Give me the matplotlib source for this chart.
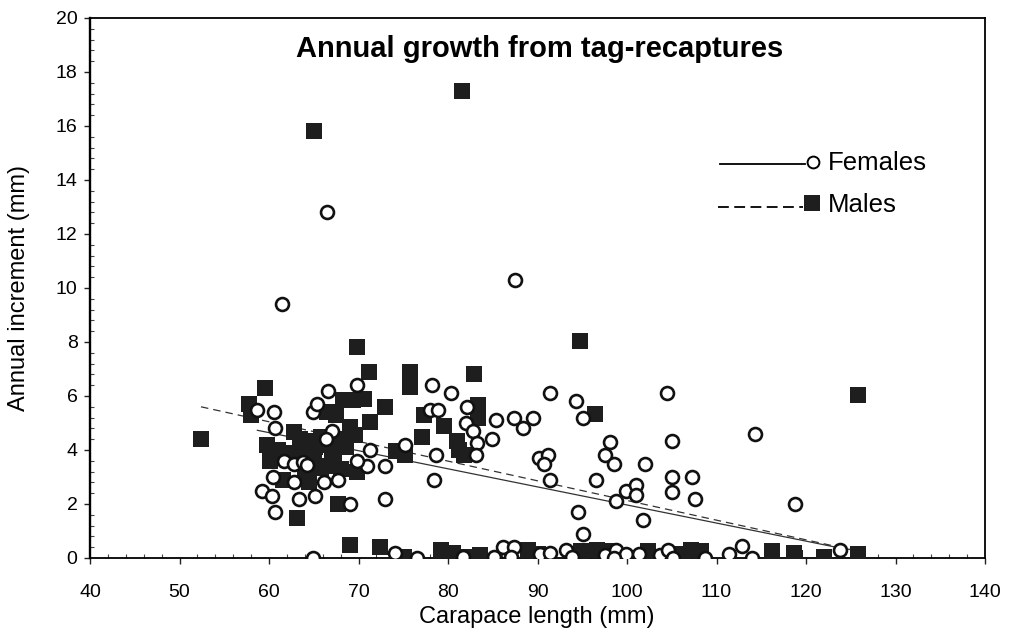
import matplotlib
matplotlib.use('Agg')
import matplotlib.pyplot as plt
from matplotlib.ticker import MultipleLocator

plt.rcParams['font.family'] = ['Liberation Sans', 'DejaVu Sans']

# ---- data (carapace length mm, annual increment mm) ----
female_x = [66.5, 61.5, 87.5, 58.7, 60.6, 60.7, 61.7, 60.4, 59.2, 60.3,
            60.7, 62.8, 62.8, 63.8, 64.3, 63.3, 65.1, 64.9, 65.4, 66.6,
            66.2, 67.7, 69.1, 69.8, 71.3, 70.9, 69.8, 73.0, 73.0, 67.0,
            66.4, 75.2, 78.2, 80.3, 78.0, 78.9, 82.1, 82.0, 82.8, 83.2,
            83.1, 84.9, 85.4, 87.4, 89.5, 88.4, 78.7, 78.4, 91.4, 94.3,
            95.1, 104.5, 98.1, 97.5, 98.5, 102.0, 90.2, 91.2, 90.7, 91.4,
            96.5, 99.9, 101.0, 101.0, 98.8, 94.5, 101.8, 95.1, 105.0, 105.0,
            105.0, 107.3, 107.6, 114.3, 118.8,
            64.9, 74.1, 76.5, 81.7, 85.1, 86.2, 87.4, 87.0, 90.3, 91.4,
            93.2, 93.9, 97.5, 98.8, 99.9, 98.6, 101.3, 103.7, 104.6, 105.1,
            108.7, 111.4, 112.8, 114.0, 123.8]
female_y = [12.8, 9.4, 10.3, 5.5, 5.4, 4.8, 3.6, 3.0, 2.5, 2.3,
            1.7, 2.8, 3.5, 3.55, 3.45, 2.2, 2.3, 5.4, 5.7, 6.2,
            2.8, 2.9, 2.0, 6.4, 4.0, 3.4, 3.6, 3.4, 2.2, 4.7,
            4.4, 4.2, 6.4, 6.1, 5.5, 5.5, 5.6, 5.0, 4.7, 4.25,
            3.8, 4.4, 5.1, 5.2, 5.2, 4.8, 3.8, 2.9, 6.1, 5.8,
            5.2, 6.1, 4.3, 3.8, 3.5, 3.5, 3.7, 3.8, 3.5, 2.9,
            2.9, 2.5, 2.7, 2.35, 2.1, 1.7, 1.4, 0.9, 4.35, 3.0,
            2.45, 3.0, 2.2, 4.6, 2.0,
            0.0, 0.2, 0.0, 0.05, 0.05, 0.4, 0.4, 0.05, 0.15, 0.2,
            0.3, 0.05, 0.1, 0.3, 0.15, 0.0, 0.15, 0.1, 0.3, 0.0,
            0.0, 0.15, 0.45, 0.0, 0.3]

male_x = [65.0, 81.6, 94.7, 69.8, 125.8, 52.4, 59.5, 57.8, 58.0, 59.8,
          60.1, 61.6, 61.0, 62.3, 62.8, 63.5, 63.8, 64.2, 65.1, 65.0,
          64.0, 64.5, 65.8, 66.2, 63.1, 67.3, 66.8, 65.8, 67.0, 68.0,
          66.5, 67.5, 68.3, 69.4, 70.6, 71.2, 73.0, 71.3, 69.0, 69.6,
          67.8, 68.6, 74.2, 69.8, 67.7, 75.8, 75.8, 82.9, 77.3, 79.5,
          83.3, 83.3, 77.1, 81.0, 81.2, 81.8, 75.2, 96.4,
          69.0, 72.4, 75.1, 79.2, 80.6, 81.9, 83.6, 88.9, 90.0, 94.9,
          96.7, 97.9, 102.3, 102.3, 106.2, 107.1, 108.3, 116.2, 118.7, 118.8,
          122.0, 125.8]
male_y = [15.8, 17.3, 8.05, 7.8, 6.05, 4.4, 6.3, 5.7, 5.3, 4.2,
          3.6, 2.9, 4.0, 3.9, 4.65, 4.4, 3.9, 4.35, 4.1, 3.7,
          3.1, 2.8, 4.5, 4.2, 1.5, 3.6, 3.4, 3.35, 3.8, 3.3,
          5.4, 5.3, 5.85, 5.85, 5.9, 6.9, 5.6, 5.05, 4.85, 4.55,
          4.4, 4.1, 3.95, 3.2, 2.0, 6.9, 6.35, 6.8, 5.3, 4.9,
          5.65, 5.2, 4.5, 4.35, 4.0, 3.8, 3.8, 5.35,
          0.5, 0.42, 0.05, 0.3, 0.2, 0.05, 0.1, 0.3, 0.15, 0.25,
          0.3, 0.25, 0.25, 0.0, 0.15, 0.3, 0.25, 0.25, 0.2, 0.0,
          0.05, 0.15]

# fitted lines (end points)
female_fit_x = [58.7, 123.8]
female_fit_y = [4.73, 0.37]
male_fit_x = [52.4, 125.8]
male_fit_y = [5.6, 0.25]

x_ticks = list(range(40, 141, 10))
y_ticks = list(range(0, 21, 2))

# ---- figure ----
fig = plt.figure(figsize=(10.14, 6.36), dpi=100)
ax = fig.add_axes([90/1014, 1-558/636, 895/1014, 540/636])

ax.plot(male_fit_x, male_fit_y, color='#333333', lw=0.9, ls=(0, (6, 4)), zorder=2)
ax.plot(female_fit_x, female_fit_y, color='#333333', lw=0.9, ls='-', zorder=2)
ax.plot(male_x, male_y, ls='none', marker='s', ms=11.6, mfc='#1e1e1e',
        mec='#1e1e1e', mew=0, zorder=3)
ax.plot(female_x, female_y, ls='none', marker='o', ms=9.3, mfc='white',
        mec='#111111', mew=1.9, zorder=4)

ax.set_xlim(40, 140)
ax.set_ylim(0, 20)
ax.set_xticks(x_ticks)
ax.set_yticks(y_ticks)
ax.xaxis.set_minor_locator(MultipleLocator(2))
ax.yaxis.set_minor_locator(MultipleLocator(0.4))
ax.tick_params(which='major', direction='out', length=4, width=1,
               labelsize=14, color='#222222')
ax.tick_params(axis='x', which='major', pad=15)
ax.tick_params(axis='y', which='major', pad=5)
ax.tick_params(which='minor', direction='in', length=3, width=0.8,
               color='#444444')
for s in ['left', 'bottom', 'top', 'right']:
    ax.spines[s].set_linewidth(1.3)
ax.spines['left'].set_linewidth(1.7)

# axis labels
fig.text(19/1014, 1-288/636, 'Annual increment (mm)', rotation=90,
         ha='center', va='center', fontsize=17)
fig.text(537/1014, 1-617/636, 'Carapace length (mm)',
         ha='center', va='center', fontsize=17)

# title inside the plot
ax.text(0.502, 0.928, 'Annual growth from tag-recaptures', transform=ax.transAxes,
        ha='center', va='baseline', fontsize=21, fontweight='bold')

# legend drawn by hand (line then marker then text, like the original)
ax.plot([0.704, 0.799], [0.7296, 0.7296], transform=ax.transAxes,
        color='black', lw=1.3, clip_on=False)
ax.plot([0.8078], [0.7333], transform=ax.transAxes, marker='o', ms=8.5,
        mfc='white', mec='black', mew=1.4, clip_on=False)
ax.text(0.8246, 0.7185, 'Females', transform=ax.transAxes, fontsize=18.5,
        va='baseline', ha='left')
ax.plot([0.7017, 0.797], [0.650, 0.650], transform=ax.transAxes,
        color='black', lw=1.3, ls=(0, (6, 3)), clip_on=False)
ax.plot([0.8067], [0.6574], transform=ax.transAxes, marker='s', ms=11,
        mfc='#1e1e1e', mec='#1e1e1e', mew=0, clip_on=False)
ax.text(0.8246, 0.6407, 'Males', transform=ax.transAxes, fontsize=18.5,
        va='baseline', ha='left')

fig.savefig('out.png', dpi=100)
